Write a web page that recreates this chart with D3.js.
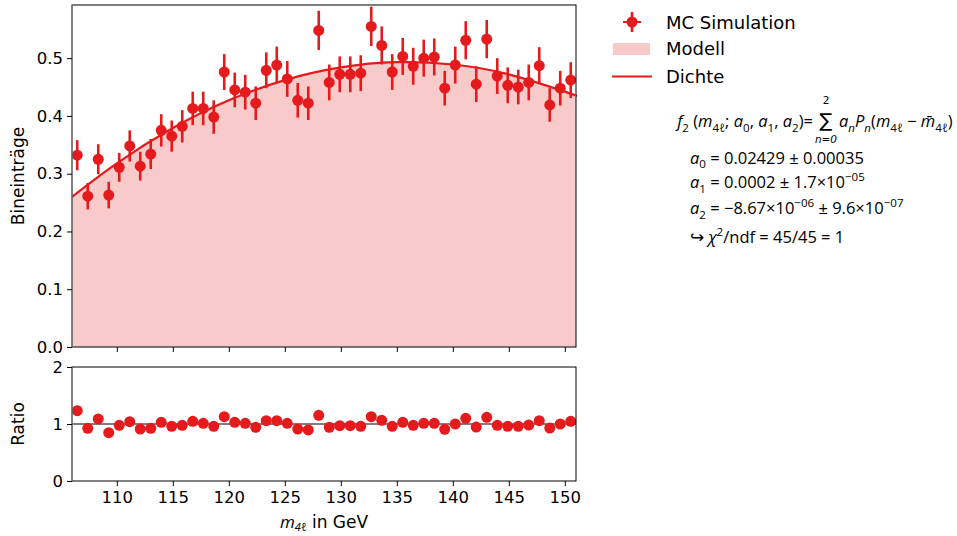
<!DOCTYPE html>
<html><head><meta charset="utf-8">
<script src="https://cdn.jsdelivr.net/npm/d3@7"></script>
<style>
html,body{margin:0;padding:0;background:#fff;}
text{font-family:"DejaVu Sans",sans-serif;fill:#000;white-space:pre;}
.math text, text.math{font-family:"Open Sans",sans-serif;}
</style></head>
<body><svg id="c" width="957" height="536"></svg>
<script>
// ---------------- data ----------------
const binRange = [106, 151];
const nBins = 48;
const mcValues = [0.332,0.261,0.325,0.263,0.311,0.348,0.313,0.334,0.375,0.365,0.382,0.413,
  0.413,0.398,0.476,0.445,0.441,0.422,0.479,0.488,0.464,0.427,0.422,0.548,
  0.458,0.472,0.472,0.474,0.555,0.522,0.476,0.503,0.486,0.500,0.502,0.448,
  0.488,0.531,0.455,0.533,0.469,0.453,0.450,0.458,0.487,0.419,0.448,0.462];
const mcErrors = [0.026,0.023,0.026,0.023,0.025,0.027,0.025,0.026,0.028,0.027,0.028,0.029,
  0.029,0.029,0.031,0.030,0.030,0.029,0.031,0.032,0.031,0.030,0.029,0.034,
  0.031,0.031,0.031,0.031,0.034,0.033,0.031,0.032,0.032,0.032,0.032,0.030,
  0.032,0.033,0.031,0.033,0.031,0.031,0.030,0.031,0.032,0.029,0.030,0.031];
const ratioValues = [1.233,0.924,1.088,0.848,0.977,1.041,0.912,0.924,1.029,0.959,0.977,1.047,
  1.012,0.959,1.129,1.029,1.012,0.942,1.059,1.059,1.012,0.912,0.895,1.152,
  0.942,0.971,0.971,0.959,1.129,1.064,0.959,1.029,0.977,1.012,1.012,0.906,
  1.000,1.099,0.947,1.117,0.977,0.959,0.959,0.982,1.059,0.930,1.000,1.047];
const modelX = [106,110,115,120,125,130,135,140,145,150,151];
const modelY = [0.260,0.318,0.379,0.427,0.462,0.484,0.493,0.489,0.472,0.442,0.435];
const mainYTicks = [0,0.1,0.2,0.3,0.4,0.5];
const ratioYTicks = [0,1,2];
const xTicks = [110,115,120,125,130,135,140,145,150];
const legendLabels = ["MC Simulation","Modell","Dichte"];

// ---------------- layout ----------------
const RED = "#e41a1c", PINK = "#f8cac9";
const L = 72, R = 576, mainTop = 5, mainBot = 347, rTop = 367, rBot = 481;
const svg = d3.select("#c");
const x = d3.scaleLinear().domain(binRange).range([L, R]);
const y = d3.scaleLinear().domain([0, 0.592]).range([mainBot, mainTop]);
const yr = d3.scaleLinear().domain([0, 2]).range([rBot, rTop]);
const bw = (binRange[1]-binRange[0])/nBins;
const centers = d3.range(nBins).map(i => binRange[0] + (i+0.5)*bw);
const pts = centers.map((c,i)=>({x:c, v:mcValues[i], e:mcErrors[i], r:ratioValues[i]}));
const model = modelX.map((m,i)=>({x:m, y:modelY[i]}));

// main panel
const main = svg.append("g");
main.append("path").datum(model)
  .attr("d", d3.area().x(d=>x(d.x)).y0(y(0)).y1(d=>y(d.y)).curve(d3.curveNatural))
  .attr("fill", PINK);
main.append("path").datum(model)
  .attr("d", d3.line().x(d=>x(d.x)).y(d=>y(d.y)).curve(d3.curveNatural))
  .attr("fill","none").attr("stroke",RED).attr("stroke-width",2.2);
main.selectAll("line.err").data(pts).join("line").attr("class","err")
  .attr("x1",d=>x(d.x)).attr("x2",d=>x(d.x))
  .attr("y1",d=>y(d.v-d.e)).attr("y2",d=>y(d.v+d.e))
  .attr("stroke",RED).attr("stroke-width",2.6);
main.selectAll("circle").data(pts).join("circle")
  .attr("cx",d=>x(d.x)).attr("cy",d=>y(d.v)).attr("r",5.5).attr("fill",RED);

// axes
function spines(g, top, bot){
  g.append("rect").attr("x",L).attr("y",top).attr("width",R-L).attr("height",bot-top)
    .attr("fill","none").attr("stroke","#000").attr("stroke-width",1);
  g.append("line").attr("x1",L).attr("x2",L).attr("y1",top).attr("y2",bot)
    .attr("stroke","#808080").attr("stroke-width",1.2);
}
spines(svg.append("g"), mainTop, mainBot);
const fs = "16.5px";
const yAx = svg.append("g").attr("transform",`translate(${L},0)`)
  .call(d3.axisLeft(y).tickValues(mainYTicks).tickFormat(d3.format(".1f")).tickSize(5).tickPadding(4));
const xAxMain = svg.append("g").attr("transform",`translate(0,${mainBot})`)
  .call(d3.axisBottom(x).tickValues(xTicks).tickFormat("").tickSize(5));

// ratio panel
const rp = svg.append("g");
rp.append("line").attr("x1",L).attr("x2",R).attr("y1",yr(1)).attr("y2",yr(1))
  .attr("stroke","#000").attr("stroke-width",1);
rp.selectAll("circle").data(pts).join("circle")
  .attr("cx",d=>x(d.x)).attr("cy",d=>yr(d.r)).attr("r",5.5).attr("fill",RED);
spines(svg.append("g"), rTop, rBot);
const yrAx = svg.append("g").attr("transform",`translate(${L},0)`)
  .call(d3.axisLeft(yr).tickValues(ratioYTicks).tickFormat(d3.format("d")).tickSize(5).tickPadding(4));
const xAx = svg.append("g").attr("transform",`translate(0,${rBot})`)
  .call(d3.axisBottom(x).tickValues(xTicks).tickFormat(d3.format("d")).tickSize(5).tickPadding(5));
[yAx,xAxMain,yrAx,xAx].forEach(a=>{
  a.select(".domain").remove();
  a.selectAll(".tick line").attr("stroke","#000").attr("stroke-width",1);
  a.selectAll(".tick text").style("font-family","DejaVu Sans").style("font-size",fs).attr("fill","#222");
});

// axis labels
const lfs = "17px";
svg.append("text").attr("transform","translate(24,176) rotate(-90)").attr("text-anchor","middle")
  .style("font-size",lfs).attr("fill","#222").text("Bineinträge");
svg.append("text").attr("transform","translate(24,424) rotate(-90)").attr("text-anchor","middle")
  .style("font-size",lfs).attr("fill","#222").text("Ratio");
const xl = svg.append("text").attr("x",(L+R)/2).attr("y",528).attr("text-anchor","middle")
  .style("font-size",lfs).attr("fill","#222");
xl.append("tspan").text("m").style("font-style","italic").style("font-family","Open Sans");
xl.append("tspan").text("4ℓ").style("font-size","11px").attr("dy",3).style("font-family","Open Sans").style("font-style","italic");
xl.append("tspan").text(" in GeV").attr("dy",-3);

// legend
const lg = svg.append("g");
lg.append("line").attr("x1",632).attr("x2",632).attr("y1",12).attr("y2",32).attr("stroke",RED).attr("stroke-width",2.6);
lg.append("line").attr("x1",623).attr("x2",641).attr("y1",22).attr("y2",22).attr("stroke",RED).attr("stroke-width",2);
lg.append("circle").attr("cx",632).attr("cy",22).attr("r",5.5).attr("fill",RED);
lg.append("rect").attr("x",613).attr("y",43).attr("width",37).attr("height",12).attr("fill",PINK);
lg.append("line").attr("x1",612).attr("x2",652).attr("y1",76.5).attr("y2",76.5).attr("stroke",RED).attr("stroke-width",2.2);
[29,55,83].forEach((by,i)=>{
  lg.append("text").attr("x",666).attr("y",by).style("font-size","18px").attr("fill","#222").text(legendLabels[i]);
});

// formula
const MF = 16.5;
function rich(x0, y0, parts, anchor, size){
  const F = size || MF;
  const t = svg.append("text").attr("class","math").attr("x",x0).attr("y",y0)
    .style("font-size",F+"px").attr("text-anchor",anchor||"start");
  let cur = 0;
  parts.forEach(p=>{
    const [s,k] = Array.isArray(p)?p:[p,""];
    const ts = t.append("tspan").text(s);
    const tgt = k.includes("b") ? F*0.3 : k.includes("p") ? -F*0.45 : 0;
    if (tgt!==cur) ts.attr("dy", tgt-cur);
    cur = tgt;
    if (k.includes("b")||k.includes("p")) ts.style("font-size",(F*0.7)+"px");
    if (k.includes("i")) ts.style("font-style","italic");
  });
  return t;
}
rich(813,127,[["f","i"],["2","b"]," (",["m","i"],["4ℓ","b"],"; ",["a","i"],["0","b"],", ",["a","i"],["1","b"],", ",["a","i"],["2","b"],")="],"end",16.5);
svg.append("text").attr("x",826).attr("y",127).attr("text-anchor","middle").style("font-size","19px").text("∑");
svg.append("text").attr("x",826).attr("y",104).attr("text-anchor","middle").style("font-size","10.5px").text("2");
svg.append("text").attr("x",826).attr("y",142.5).attr("text-anchor","middle").style("font-size","10.5px").style("font-style","italic").text("n=0");
rich(839,127,[["a","i"],["n","bi"],["P","i"],["n","bi"],"(",["m","i"],["4ℓ","b"]," − ",["m̄","i"],["4ℓ","b"],")"],"start",16.5);
rich(690,163.5,[["a","i"],["0","b"]," = 0.02429 ± 0.00035"]);
rich(690,188,[["a","i"],["1","b"]," = 0.0002 ± 1.7×10",["−05","p"]]);
rich(690,214,[["a","i"],["2","b"]," = −8.67×10",["−06","p"]," ± 9.6×10",["−07","p"]]);
rich(690,243,["↪ ",["χ","i"],["2","p"],"/ndf = 45/45 = 1"]);
</script></body></html>
